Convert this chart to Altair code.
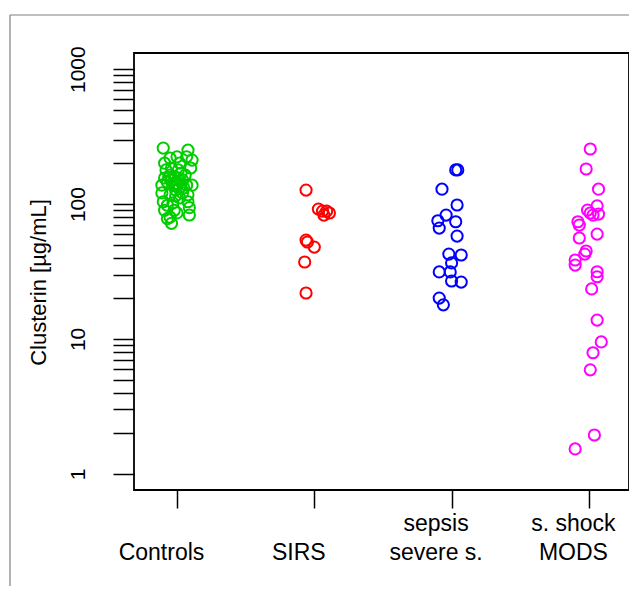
import altair as alt
import pandas as pd

# ---- data ----
group_names = ["Controls", "SIRS", "sepsis/severe s.", "s. shock/MODS"]
group_label_lines = [["", "Controls"], ["", "SIRS"], ["sepsis", "severe s."], ["s. shock", "MODS"]]
group_positions = [1, 2, 3, 4]
group_colors = ["#00CD00", "#FF0000", "#0000FF", "#FF00FF"]

controls_values = [260, 251, 224, 212, 219, 224, 201, 201, 185, 179, 138, 138, 121, 117, 104, 102,
                   104, 90, 90, 94, 83, 80, 72, 164, 156, 151, 138, 134, 146, 164, 127, 117, 121,
                   179, 185, 138, 156, 111, 115, 98, 86, 78,
                   160, 150, 142, 170, 132, 148, 158, 140]
controls_jitter = [-0.10, 0.08, 0.07, 0.11, -0.05, 0.00, -0.09, 0.02, 0.10, -0.08, -0.11, 0.11, -0.11,
                   0.08, -0.10, -0.03, 0.08, -0.09, -0.02, 0.09, 0.09, -0.05, -0.04, -0.05, 0.01, 0.04,
                   -0.03, 0.02, -0.07, 0.06, -0.01, -0.05, 0.04, 0.01, -0.04, 0.07, -0.09, 0.02, -0.01,
                   -0.07, 0.00, -0.07,
                   -0.02, -0.04, 0.00, 0.03, 0.05, 0.02, -0.06, -0.01]

sirs_values = [127, 91.8, 88.7, 88.7, 85.8, 82.9, 54.1, 52.3, 48.0, 37.2, 21.9]
sirs_jitter = [-0.06, 0.03, 0.06, 0.09, 0.11, 0.07, -0.06, -0.05, 0.00, -0.07, -0.06]

sepsis_values = [179, 179, 129, 98.4, 82.9, 75.2, 73.9, 66.4, 57.9, 42.6, 41.9, 36.6, 31.4, 31.4,
                 26.9, 26.4, 20.1, 17.9]
sepsis_jitter = [0.03, 0.045, -0.07, 0.04, -0.04, -0.10, 0.03, -0.09, 0.04, -0.02, 0.07, 0.00, -0.09,
                 -0.01, 0.00, 0.07, -0.09, -0.06]

shock_values = [256, 182, 129, 97.1, 90.3, 85.8, 82.9, 84.3, 73.9, 69.9, 59.9, 56.0, 44.9, 42.6,
                38.5, 35.3, 31.5, 28.9, 23.5, 13.8, 9.5, 7.9, 5.9, 1.94, 1.53]
shock_jitter = [0.01, -0.02, 0.07, 0.06, -0.01, 0.01, 0.03, 0.07, -0.08, -0.07, 0.06, -0.07, -0.02,
                -0.03, -0.10, -0.10, 0.06, 0.06, 0.02, 0.06, 0.09, 0.03, 0.01, 0.04, -0.10]

y_major = [1, 10, 100, 1000]
y_ticks = [m * d for d in [1, 10, 100] for m in range(1, 10)] + [1000]

# ---- build table ----
rows = []
for name, pos, vals, jit in zip(group_names, group_positions,
                                [controls_values, sirs_values, sepsis_values, shock_values],
                                [controls_jitter, sirs_jitter, sepsis_jitter, shock_jitter]):
    for v, j in zip(vals, jit):
        rows.append({"group": name, "x": pos + j, "value": v})
df = pd.DataFrame(rows)

FONT = "Liberation Sans"

x_label_expr = " : ".join(
    f"datum.value == {p} ? {repr(lines)}" for p, lines in zip(group_positions[:-1], group_label_lines[:-1])
) + f" : {repr(group_label_lines[-1])}"

y_label_expr = "indexof(" + repr(y_major) + ", datum.value) >= 0 ? datum.label : ''"

points = alt.Chart(df).mark_point(
    shape="circle", filled=False, size=125, strokeWidth=2, opacity=1
).encode(
    x=alt.X("x:Q",
            scale=alt.Scale(domain=[0.687, 4.292], nice=False, zero=False),
            axis=alt.Axis(values=group_positions, labelExpr=x_label_expr, title=None,
                          tickSize=18, tickWidth=1.5, tickColor="black", domain=False, grid=False,
                          labelFont=FONT, labelFontSize=23, labelColor="black", labelPadding=4,
                          labelLineHeight=29, labelOffset=-16, labelBaseline="top", labelAlign="center",
                          labelAngle=0, labelFlush=False, labelOverlap=False)),
    y=alt.Y("value:Q",
            scale=alt.Scale(type="log", domain=[0.7586, 1318.3], nice=False),
            axis=alt.Axis(values=y_ticks, labelExpr=y_label_expr, format="d",
                          title="Clusterin [µg/mL]", titleFont=FONT, titleFontSize=22,
                          titleFontWeight="normal", titleColor="black", titleAngle=270,
                          titleX=-96, titleY=229, titleAlign="center", titleBaseline="middle",
                          tickSize=21, tickWidth=1.5, tickColor="black", domain=False, grid=False,
                          labelFont=FONT, labelFontSize=21, labelColor="black", labelAngle=270,
                          labelAlign="center", labelBaseline="bottom", labelPadding=25,
                          labelFlush=False, labelOverlap=False)),
    color=alt.Color("group:N", scale=alt.Scale(domain=group_names, range=group_colors), legend=None),
)

frame_df = pd.DataFrame({"a": [0]})
frame_top = alt.Chart(frame_df).mark_rule(color="#808080", strokeWidth=1.2).encode(
    x=alt.value(-124), x2=alt.value(500), y=alt.value(-38))
frame_left = alt.Chart(frame_df).mark_rule(color="#808080", strokeWidth=1.2).encode(
    x=alt.value(-124), y=alt.value(-38), y2=alt.value(560))
plot_box = alt.Chart(frame_df).mark_rect(fill=None, stroke="black", strokeWidth=1.8).encode(
    x=alt.value(0), x2=alt.value(495), y=alt.value(0), y2=alt.value(437))

chart = alt.layer(frame_top, frame_left, plot_box, points).properties(
    width=495, height=437,
    autosize=alt.AutoSizeParams(type="none"),
    padding={"left": 126, "top": 45, "right": 0, "bottom": 96},
).configure_view(stroke=None).configure(background="white")

chart.save("out.html", embed_options={"renderer": "svg", "actions": False})
